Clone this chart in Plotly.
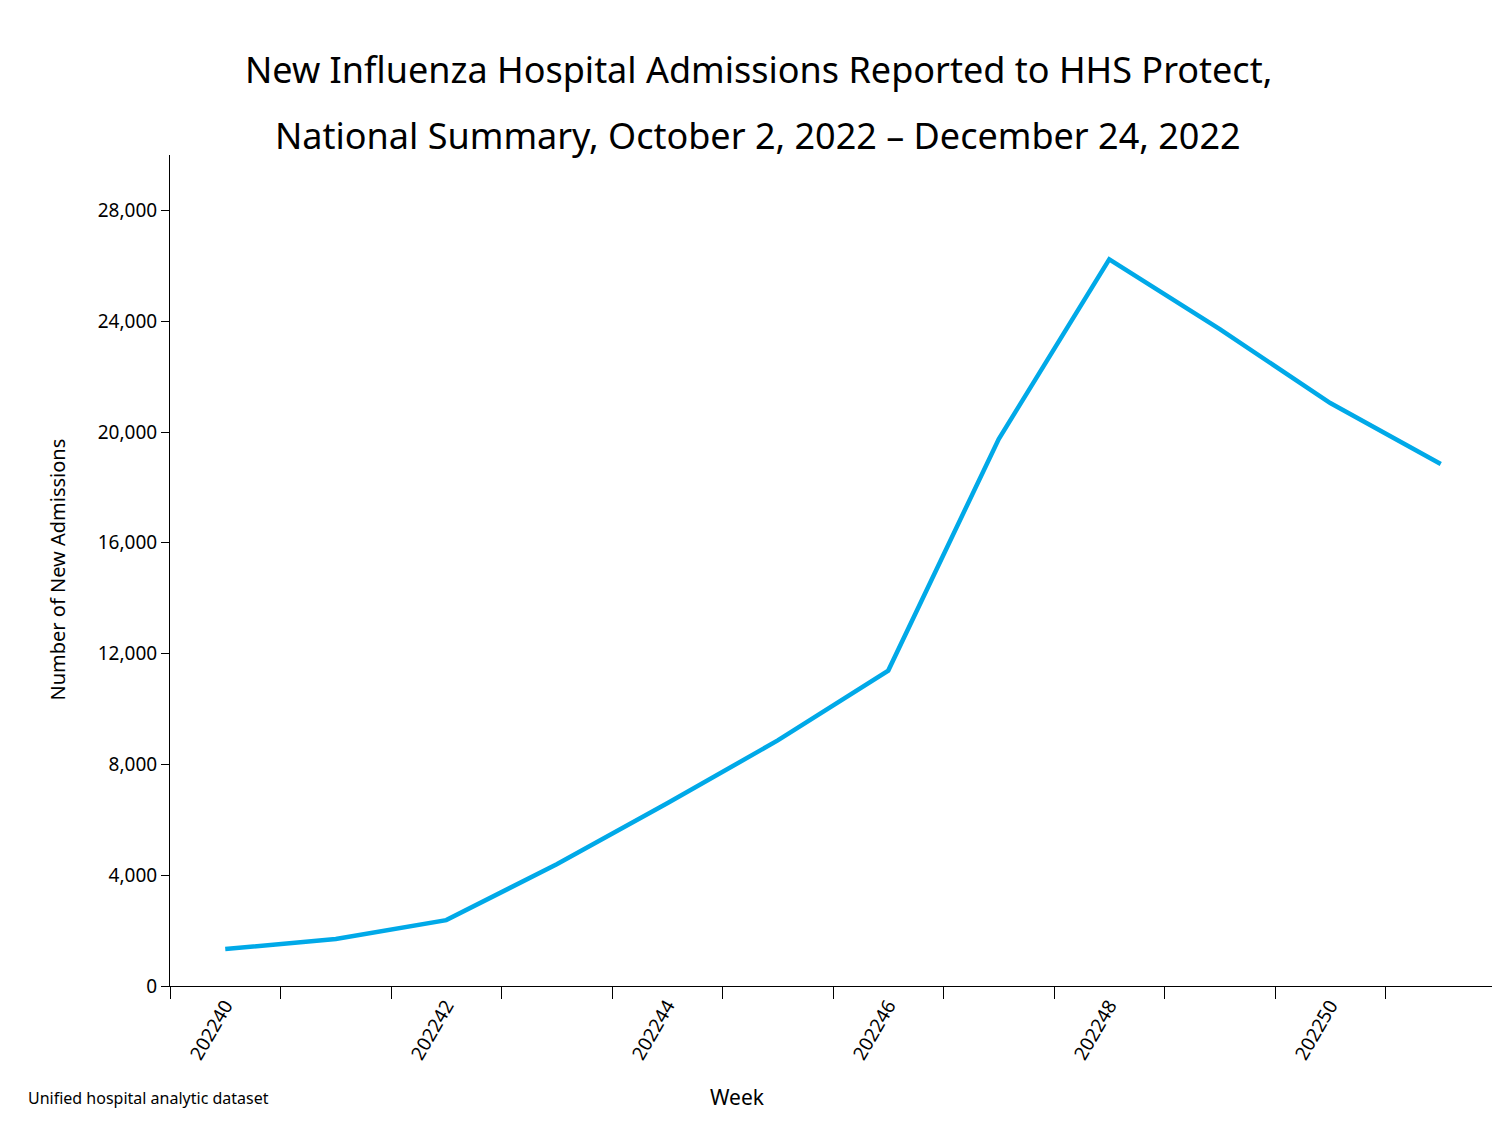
import plotly.graph_objects as go

weeks = ["202240", "202241", "202242", "202243", "202244", "202245",
         "202246", "202247", "202248", "202249", "202250", "202251"]
admissions = [1333, 1694, 2378, 4396, 6595, 8865, 11387, 19748, 26234, 23712, 21045, 18847]
tick_labels = [w if i % 2 == 0 else "" for i, w in enumerate(weeks)]
y_ticks = [0, 4000, 8000, 12000, 16000, 20000, 24000, 28000]
title_lines = ["New Influenza Hospital Admissions Reported to HHS Protect,",
               "National Summary, October 2, 2022 – December 24, 2022"]

font = "Noto Sans"
W, H = 1500, 1125
L, R, T, B = 162, 12, 147, 147
pw, ph = W - L - R, H - T - B

fig = go.Figure(go.Scatter(x=weeks, y=admissions, mode="lines",
                           line=dict(color="#00a9e8", width=4.5)))

fig.update_layout(
    width=W, height=H,
    paper_bgcolor="white", plot_bgcolor="white",
    margin=dict(l=L, r=R, t=T, b=B, autoexpand=False),
    showlegend=False,
    font=dict(family=font, color="black", size=19),
)
fig.update_xaxes(type="category", range=[-0.5, 11.5], tickmode="array", tickvals=weeks,
                 ticktext=tick_labels, tickson="boundaries", ticks="outside", ticklen=12,
                 tickcolor="black", tickangle=-60, showline=True, linecolor="black",
                 linewidth=1, showgrid=False, tickfont=dict(size=19), automargin=False)
fig.update_yaxes(range=[0, 30000], tickvals=y_ticks, tickformat=",d",
                 ticks="outside", ticklen=8, tickcolor="black",
                 showline=True, linecolor="black", linewidth=1, showgrid=False,
                 zeroline=False, tickfont=dict(size=19), automargin=False)

for text, yc in zip(title_lines, [35, 101]):
    fig.add_annotation(text=text, xref="paper", yref="paper", x=(750 - L) / pw,
                       y=(H - B - yc) / ph, showarrow=False, font=dict(size=36))
fig.add_annotation(text="Number of New Admissions", xref="paper", yref="paper",
                   x=-(L - 33) / pw, y=(H - B - 562) / ph, textangle=-90,
                   showarrow=False, font=dict(size=20))
fig.add_annotation(text="Week", xref="paper", yref="paper", x=(729 - L) / pw,
                   y=-(1105 - 978) / ph, showarrow=False, font=dict(size=21))
fig.add_annotation(text="Unified hospital analytic dataset", xref="paper", yref="paper",
                   x=-(L - 18) / pw, xanchor="left", y=-(1103 - 978) / ph,
                   showarrow=False, font=dict(size=16))

fig.write_html("out.html")
